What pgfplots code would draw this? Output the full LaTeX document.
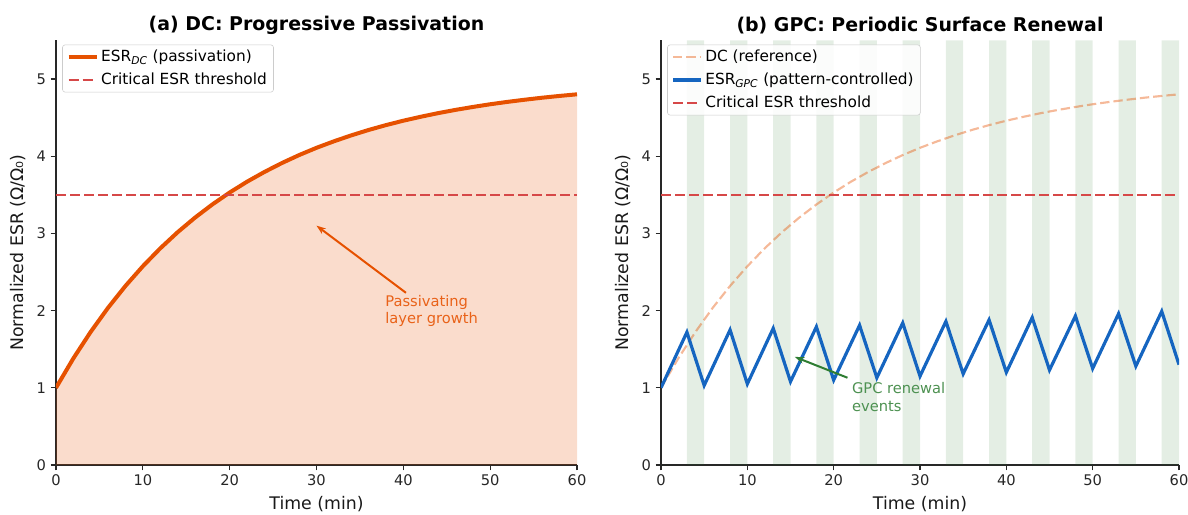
\documentclass[border=0pt]{standalone}
\usepackage{fontspec}
\setmainfont{DejaVu Sans}
\usepackage{pgfplots}
\pgfplotsset{compat=1.18}
\usetikzlibrary{arrows.meta}

\definecolor{dcorange}{RGB}{230,81,0}
\definecolor{thr}{RGB}{214,72,72}
\definecolor{gpcblue}{RGB}{21,101,192}
\definecolor{bandgreen}{RGB}{46,125,50}
\definecolor{spine}{RGB}{40,40,40}

% DC passivation curve (normalized ESR vs time)
\pgfplotstableread{
t esr
0 1.000
2 1.381
4 1.725
6 2.037
8 2.319
10 2.574
12 2.805
14 3.014
16 3.203
18 3.374
20 3.529
22 3.669
24 3.795
26 3.910
28 4.014
30 4.108
32 4.192
34 4.269
36 4.339
38 4.402
40 4.459
42 4.510
44 4.557
46 4.599
48 4.637
50 4.672
52 4.703
54 4.731
56 4.757
58 4.780
60 4.801
}\dcdata

% GPC sawtooth
\pgfplotstableread{
t esr
0 1.00
3 1.72
5 1.03
8 1.75
10 1.05
13 1.77
15 1.08
18 1.79
20 1.10
23 1.81
25 1.13
28 1.84
30 1.15
33 1.86
35 1.18
38 1.88
40 1.20
43 1.91
45 1.23
48 1.93
50 1.25
53 1.96
55 1.28
58 1.99
60 1.30
}\gpcdata

\pgfplotsset{
  panel/.style={
    scale only axis,
    height=318.5pt,
    xmin=0, xmax=60, ymin=0, ymax=5.5,
    axis x line*=bottom, axis y line*=left,
    axis line style={spine, line width=0.9pt},
    xtick={0,10,...,60}, ytick={0,1,...,5},
    tick align=outside, major tick length=4pt,
    tick style={spine, line width=0.9pt},
    /pgf/number format/assume math mode=true,
    ticklabel style={font=\fontsize{11}{13}\selectfont, text=black!85},
    xlabel={Time (min)},
    ylabel={Normalized ESR (Ω/Ω₀)},
    label style={font=\fontsize{13}{15}\selectfont, text=black!90},
    xlabel style={yshift=-1pt},
    ylabel style={yshift=1pt},
    title style={font=\bfseries\fontsize{14.2}{17}\selectfont, yshift=-5pt},
    legend cell align=left,
    legend style={at={(axis description cs:0.012,0.99)}, anchor=north west,
      draw=black!20, rounded corners=2pt, fill=white, fill opacity=0.85,
      text opacity=1, font=\fontsize{11.5}{14}\selectfont,
      inner xsep=3pt, inner ysep=2pt, row sep=3pt},
    legend image code/.code={\draw[##1] (0pt,0pt) -- (21pt,0pt);},
    clip=true,
  }
}

\begin{document}
\begin{tikzpicture}
\useasboundingbox (0,0) rectangle (891pt,385.5pt);

\begin{axis}[panel, width=390.75pt, at={(42pt,36.75pt)}, anchor=south west,
  title={(a) DC: Progressive Passivation}]
  \addplot[fill=dcorange, fill opacity=0.2, draw=none, forget plot]
    table[x=t, y=esr] {\dcdata} \closedcycle;
  \addplot[dcorange, line width=3pt] table[x=t, y=esr] {\dcdata};
  \addlegendentry{ESR\textsubscript{\textit{DC}} (passivation)}
  \addplot[thr, line width=1.6pt, dash pattern=on 7.5pt off 3pt]
    coordinates {(0,3.5) (60,3.5)};
  \addlegendentry{Critical ESR threshold}
  \draw[dcorange, line width=1.5pt, -{Stealth[length=7pt,width=5pt]}]
    (axis cs:40.3,2.23) -- (axis cs:30,3.1);
  \node[anchor=north west, align=left, text=dcorange!90!white, inner sep=0pt,
    font=\fontsize{11}{13}\selectfont]
    at (axis cs:37.9,2.2) {Passivating\\layer growth};
\end{axis}

\begin{axis}[panel, width=388.5pt, at={(495.75pt,36.75pt)}, anchor=south west,
  title={(b) GPC: Periodic Surface Renewal}]
  % renewal windows
  \addplot[const plot, fill=bandgreen, fill opacity=0.13, draw=none, forget plot]
    coordinates {(0,0) (3,5.5) (5,0) (8,5.5) (10,0) (13,5.5) (15,0) (18,5.5)
      (20,0) (23,5.5) (25,0) (28,5.5) (30,0) (33,5.5) (35,0) (38,5.5) (40,0)
      (43,5.5) (45,0) (48,5.5) (50,0) (53,5.5) (55,0) (58,5.5) (60,5.5)} \closedcycle;
  \addplot[dcorange, opacity=0.4, line width=1.6pt, dash pattern=on 7pt off 3pt]
    table[x=t, y=esr] {\dcdata};
  \addlegendentry{DC (reference)}
  \addplot[gpcblue, line width=2.4pt] table[x=t, y=esr] {\gpcdata};
  \addlegendentry{ESR\textsubscript{\textit{GPC}} (pattern-controlled)}
  \addplot[thr, line width=1.6pt, dash pattern=on 7.5pt off 3pt]
    coordinates {(0,3.5) (60,3.5)};
  \addlegendentry{Critical ESR threshold}
  \draw[bandgreen, line width=1.5pt, -{Stealth[length=7pt,width=5pt]}]
    (axis cs:21.6,1.13) -- (axis cs:15.5,1.4);
  \node[anchor=north west, align=left, text=bandgreen!85!white, inner sep=0pt,
    font=\fontsize{11}{13}\selectfont]
    at (axis cs:22.1,1.07) {GPC renewal\\events};
\end{axis}
\end{tikzpicture}
\end{document}
